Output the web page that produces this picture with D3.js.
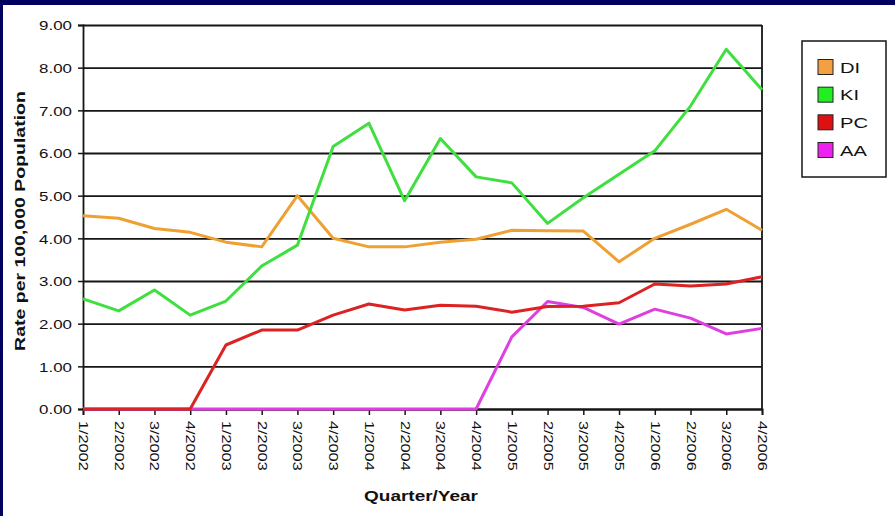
<!DOCTYPE html>
<html>
<head>
<meta charset="utf-8">
<script src="https://cdn.jsdelivr.net/npm/d3@7"></script>
<style>
  html, body { margin: 0; padding: 0; background: #fff; }
  svg { display: block; font-family: "Liberation Sans", Arial, sans-serif; }
</style>
</head>
<body>
<svg id="chart" width="895" height="516"></svg>
<script>
// Quarterly rates per 100,000 population, 2002–2006
const quarters = [
  "1/2002", "2/2002", "3/2002", "4/2002",
  "1/2003", "2/2003", "3/2003", "4/2003",
  "1/2004", "2/2004", "3/2004", "4/2004",
  "1/2005", "2/2005", "3/2005", "4/2005",
  "1/2006", "2/2006", "3/2006", "4/2006"
];
const seriesNames = ["DI", "KI", "PC", "AA"];
const diValues = [4.53, 4.47, 4.23, 4.14, 3.91, 3.80, 5.00, 4.00, 3.80, 3.80, 3.91, 3.98, 4.19, 4.18, 4.17, 3.45, 4.00, 4.33, 4.68, 4.19];
const kiValues = [2.58, 2.30, 2.79, 2.20, 2.53, 3.35, 3.84, 6.15, 6.70, 4.88, 6.34, 5.44, 5.30, 4.35, 4.95, 5.50, 6.05, 7.10, 8.43, 7.48];
const pcValues = [0, 0, 0, 0, 1.50, 1.85, 1.85, 2.20, 2.46, 2.32, 2.43, 2.41, 2.27, 2.40, 2.41, 2.49, 2.93, 2.88, 2.93, 3.10];
const aaValues = [0, 0, 0, 0, 0, 0, 0, 0, 0, 0, 0, 0, 1.69, 2.52, 2.38, 1.99, 2.34, 2.13, 1.76, 1.89];
const yTicks = [0, 1, 2, 3, 4, 5, 6, 7, 8, 9];

const lineColors = { DI: "#efa033", KI: "#3fdf3f", PC: "#dc2222", AA: "#df3fdf" };
const swatchColors = { DI: "#f5a040", KI: "#22ee22", PC: "#dd1111", AA: "#ee22ee" };
const valuesByName = { DI: diValues, KI: kiValues, PC: pcValues, AA: aaValues };
const drawOrder = ["DI", "KI", "AA", "PC"];

const svg = d3.select("#chart");
const W = 895, H = 516;
const plot = { left: 83, right: 762, top: 25, bottom: 409 };
const STRETCH = 1.3;

// slide frame
svg.append("rect").attr("x", 0).attr("y", 0).attr("width", W).attr("height", H).attr("fill", "#fff");
svg.append("rect").attr("x", 0).attr("y", 0).attr("width", W).attr("height", 5).attr("fill", "#00005e");
svg.append("rect").attr("x", 0).attr("y", 0).attr("width", 3).attr("height", H).attr("fill", "#00005e");

const x = d3.scalePoint().domain(quarters).range([plot.left, plot.right]);
const y = d3.scaleLinear().domain([0, 9]).range([plot.bottom, plot.top]);

// horizontal gridlines
const grid = svg.append("g")
  .attr("transform", `translate(${plot.left},0)`)
  .call(d3.axisLeft(y).tickValues(yTicks).tickSize(-(plot.right - plot.left)).tickFormat(""));
grid.select(".domain").remove();
grid.selectAll("line").attr("stroke", "#151515").attr("stroke-width", 1.8);

// right border of the plot area
svg.append("line")
  .attr("x1", plot.right).attr("x2", plot.right)
  .attr("y1", plot.top).attr("y2", plot.bottom)
  .attr("stroke", "#151515").attr("stroke-width", 1.8);

// y axis
const yAxis = svg.append("g")
  .attr("transform", `translate(${plot.left},0)`)
  .call(d3.axisLeft(y).tickValues(yTicks).tickSize(5).tickFormat(d3.format(".2f")));
yAxis.select(".domain").attr("stroke", "#151515").attr("stroke-width", 1.8);
yAxis.selectAll(".tick line").attr("stroke", "#151515").attr("stroke-width", 1.5);
yAxis.selectAll(".tick text")
  .attr("x", 0).attr("dy", "0.36em")
  .attr("text-anchor", "end")
  .attr("transform", `translate(-11,0) scale(${STRETCH},1)`)
  .attr("font-size", 13).attr("fill", "#111")
  .attr("font-family", "Liberation Sans, Arial, sans-serif");

// x axis
const xAxis = svg.append("g")
  .attr("transform", `translate(0,${plot.bottom})`)
  .call(d3.axisBottom(x).tickSize(6).tickPadding(0));
xAxis.select(".domain").attr("stroke", "#151515").attr("stroke-width", 1.8);
xAxis.selectAll(".tick line").attr("stroke", "#151515").attr("stroke-width", 1.5);
xAxis.selectAll(".tick text")
  .attr("x", 0).attr("y", 0).attr("dy", "0.36em")
  .attr("text-anchor", "start")
  .attr("transform", `translate(0,12) rotate(90) scale(${STRETCH},1)`)
  .attr("font-size", 12.5).attr("fill", "#111")
  .attr("font-family", "Liberation Sans, Arial, sans-serif");

// series lines
const line = d3.line()
  .x((d, i) => x(quarters[i]))
  .y(d => y(d));

drawOrder.forEach(name => {
  svg.append("path")
    .datum(valuesByName[name])
    .attr("fill", "none")
    .attr("stroke", lineColors[name])
    .attr("stroke-width", 3)
    .attr("stroke-linejoin", "round")
    .attr("d", line);
});

// axis titles
svg.append("text")
  .attr("transform", `translate(25,221) rotate(-90) scale(${STRETCH},1)`)
  .attr("text-anchor", "middle")
  .attr("font-weight", "bold").attr("font-size", 15).attr("fill", "#111")
  .text("Rate per 100,000 Population");

svg.append("text")
  .attr("transform", `translate(421,501) scale(${STRETCH},1)`)
  .attr("text-anchor", "middle")
  .attr("font-weight", "bold").attr("font-size", 14.6).attr("fill", "#111")
  .text("Quarter/Year");

// legend
const legend = svg.append("g");
legend.append("rect")
  .attr("x", 802).attr("y", 41).attr("width", 84).attr("height", 136)
  .attr("fill", "#fff").attr("stroke", "#151515").attr("stroke-width", 1.5);

const rowY = d3.scalePoint().domain(seriesNames).range([67, 150]);
seriesNames.forEach(name => {
  const cy = rowY(name);
  legend.append("rect")
    .attr("x", 818).attr("y", cy - 7.5).attr("width", 15).attr("height", 15)
    .attr("fill", swatchColors[name]).attr("stroke", "#222").attr("stroke-width", 1);
  legend.append("text")
    .attr("transform", `translate(840,${cy}) scale(${STRETCH},1)`)
    .attr("dy", "0.36em")
    .attr("font-size", 15.5).attr("fill", "#111")
    .text(name);
});
</script>
</body>
</html>
